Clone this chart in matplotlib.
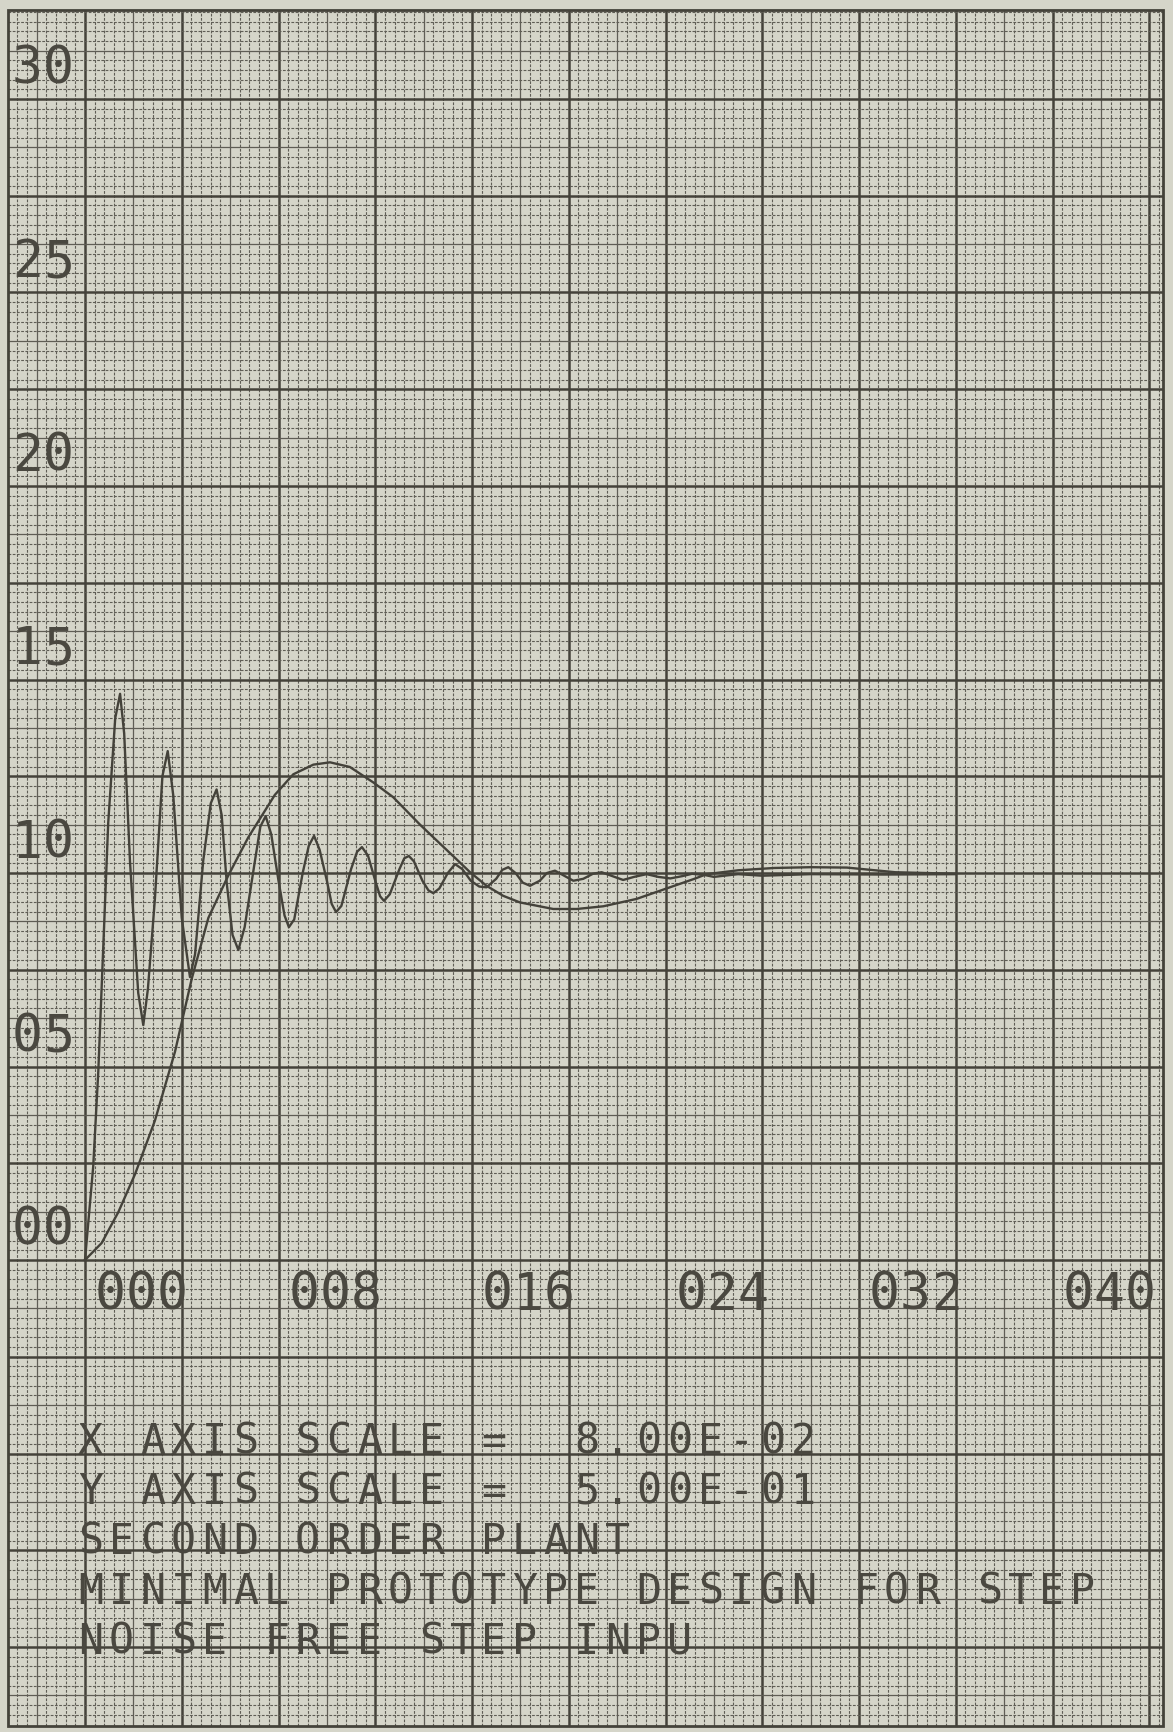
import numpy as np
import matplotlib
matplotlib.use("Agg")
import matplotlib.pyplot as plt
from matplotlib.patches import Rectangle
from matplotlib.transforms import offset_copy

# ringing response (chart units)
ringing_x = [0.0, 0.34, 0.55, 0.96, 1.25, 1.45, 1.62, 1.86, 2.2, 2.41, 2.6, 2.89,
             3.2, 3.42, 3.65, 4.0, 4.34, 4.55, 4.89, 5.2, 5.44, 5.65, 5.86, 6.1,
             6.34, 6.6, 7.03, 7.25, 7.47, 7.7, 8.0, 8.25, 8.43, 8.65, 9.0, 9.25,
             9.47, 9.7, 10.0, 10.2, 10.38, 10.6, 11.0, 11.25, 11.45, 11.7, 12.0,
             12.2, 12.36, 12.6, 13.0, 13.2, 13.39, 13.6, 13.95, 14.2, 14.4, 14.65,
             15.0, 15.3, 15.6, 15.95, 16.3, 16.6, 17.0, 17.25, 17.5, 17.8, 18.1,
             18.4, 18.8, 19.1, 19.43, 19.75, 20.19, 20.6, 21.0, 21.36, 21.8, 22.25,
             22.7, 23.22, 23.7, 24.2, 24.7, 25.1, 25.6, 26.0, 27.0, 28.0, 30.0,
             33.0, 36.0]
ringing_y = [0.0, 2.42, 4.88, 11.3, 14.0, 14.63, 13.6, 10.3, 6.9, 6.07, 7.0, 9.33,
             12.5, 13.15, 12.0, 8.84, 7.31, 7.9, 10.33, 11.8, 12.16, 11.5, 9.74, 8.4,
             8.01, 8.6, 10.33, 11.2, 11.47, 11.0, 9.8, 8.9, 8.6, 8.8, 10.0, 10.7,
             10.96, 10.6, 9.8, 9.2, 8.99, 9.15, 10.1, 10.55, 10.67, 10.45, 9.8,
             9.4, 9.28, 9.45, 10.1, 10.38, 10.44, 10.3, 9.8, 9.55, 9.48, 9.6,
             10.0, 10.23, 10.1, 9.8, 9.65, 9.63, 9.85, 10.08, 10.15, 10.0, 9.75,
             9.67, 9.8, 10.0, 10.06, 9.95, 9.8, 9.85, 9.98, 10.02, 9.92, 9.82,
             9.9, 9.97, 9.9, 9.86, 9.92, 9.98, 9.95, 9.9, 9.97, 9.93, 9.97,
             9.96, 9.97]

# smooth second order response
smooth_x = [0.0, 0.69, 1.38, 2.07, 2.89, 3.72, 4.41, 5.1, 5.92, 6.75, 7.85, 8.61,
            9.44, 10.13, 10.95, 11.92, 12.74, 13.85, 15.35, 15.92, 16.6, 17.29,
            17.98, 19.36, 20.33, 21.43, 22.8, 24.18, 25.15, 25.7, 27.0, 28.5,
            30.0, 31.5, 32.5, 33.5, 36.0]
smooth_y = [0.0, 0.44, 1.24, 2.22, 3.6, 5.38, 7.26, 8.84, 9.93, 10.92, 12.02, 12.55,
            12.8, 12.86, 12.74, 12.34, 11.96, 11.25, 10.36, 10.02, 9.67, 9.41,
            9.24, 9.07, 9.07, 9.14, 9.33, 9.63, 9.84, 9.97, 10.07, 10.13,
            10.15, 10.14, 10.08, 10.02, 9.98]

y_tick_values = [0, 5, 10, 15, 20, 25, 30]
y_tick_labels = ["00", "05", "10", "15", "20", "25", "30"]
x_tick_values = [0, 8, 16, 24, 32, 40]
x_tick_labels = ["000", "008", "016", "024", "032", "040"]

caption_lines = ["X AXIS SCALE =  8.00E-02",
                 "Y AXIS SCALE =  5.00E-01",
                 "SECOND ORDER PLANT",
                 "MINIMAL PROTOTYPE DESIGN FOR STEP",
                 "NOISE FREE STEP INPU"]

PAPER = "#d5d5c9"
INK = "#44423a"
MINOR = "#5f5d55"

W, H = 1173, 1733
X0_PX, Y0_PX = 85, 1261          # where the origin sits on the sheet
CELL = 96.75                     # one heavy square in pixels
XU = CELL / 4                    # pixels per x unit
YU = CELL / 2.5                  # pixels per y unit

fig = plt.figure(figsize=(W / 100, H / 100), dpi=100)
fig.patch.set_facecolor(PAPER)
ax = fig.add_axes([0, 0, 1, 1])
ax.set_facecolor(PAPER)
ax.set_xlim(-X0_PX / XU, (W - X0_PX) / XU)
ax.set_ylim(-(H - Y0_PX) / YU, Y0_PX / YU)
ax.axis("off")

# graph paper: heavy every 10 squares, half-weight every 5, dashed fine lines
left, right = -3.2, 44.55
bottom, top = -12.05, 32.3
for k in range(-7, 112):
    xv = 0.4 * k
    if k % 10 == 0:
        ax.vlines(xv, bottom, top, color=INK, lw=1.8, zorder=1)
    elif k % 5 == 0:
        ax.vlines(xv, bottom, top, color=MINOR, lw=0.9, zorder=1)
    else:
        ax.vlines(xv, bottom, top, color=MINOR, lw=0.8, linestyles=(0, (2.5, 1.3)), zorder=1)
for j in range(-47, 130):
    yv = 0.25 * j
    if j % 10 == 0:
        ax.hlines(yv, left, right, color=INK, lw=1.8, zorder=1)
    elif j % 5 == 0:
        ax.hlines(yv, left, right, color=MINOR, lw=0.9, zorder=1)
    else:
        ax.hlines(yv, left, right, color=MINOR, lw=0.8, linestyles=(0, (2.5, 1.3)), zorder=1)
ax.add_patch(Rectangle((left, bottom), right - left, top - bottom, fill=False,
                       ec=INK, lw=2.0, zorder=2))

# the two traces
ax.plot(smooth_x, smooth_y, color=INK, lw=1.7, zorder=3)
ax.plot(ringing_x, ringing_y, color=INK, lw=1.7, zorder=3)


def plotter_text(x, y, s, dx, dy, size, pitch=31):
    # one character per cell, like the pen plotter did
    for i, ch in enumerate(s):
        if ch == " ":
            continue
        tr = offset_copy(ax.transData, fig=fig, x=dx + i * pitch, y=dy, units="dots")
        ax.text(x, y, ch, transform=tr, fontsize=size, family="DejaVu Sans Mono",
                ha="left", va="baseline", color="#4a4840", zorder=4)


for v, lab in zip(y_tick_values, y_tick_labels):
    plotter_text(0, v, lab, 12 - X0_PX, 16, 37)

for v, lab in zip(x_tick_values, x_tick_labels):
    plotter_text(v, 0, lab, 10, -49, 37)

for i, line in enumerate(caption_lines):
    base = 1454 + 50 * i
    plotter_text(0, 0, line, 78 - X0_PX, Y0_PX - base, 30)

fig.savefig("out.png", dpi=100, facecolor=PAPER)
